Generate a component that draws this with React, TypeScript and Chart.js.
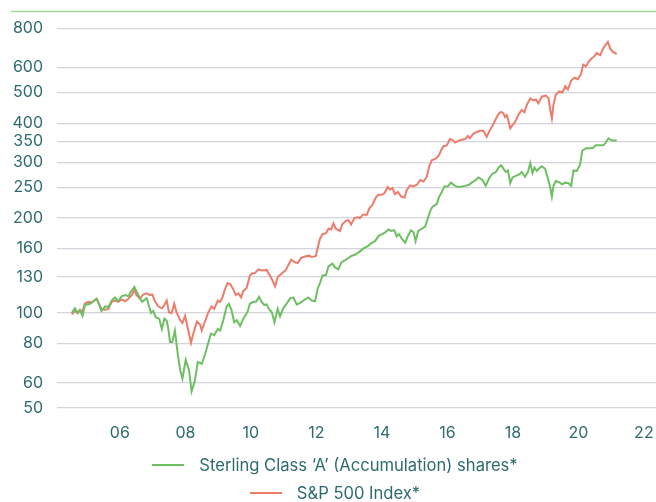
import React, { useEffect, useRef } from "react";
import { Chart, registerables } from "chart.js";

Chart.register(...registerables);

const seriesLabels = ["Sterling Class \u2018A\u2019 (Accumulation) shares*", "S&P 500 Index*"];

const greenDates = [2004.53,2004.63,2004.71,2004.78,2004.86,2004.93,2005.09,2005.29,2005.44,2005.55,2005.65,2005.75,2005.85,2005.95,2006.05,2006.16,2006.26,2006.34,2006.44,2006.51,2006.61,2006.68,2006.82,2006.89,2006.95,2007.02,2007.09,2007.20,2007.28,2007.36,2007.43,2007.48,2007.53,2007.60,2007.68,2007.77,2007.84,2007.91,2008.01,2008.11,2008.19,2008.29,2008.38,2008.50,2008.60,2008.70,2008.78,2008.88,2008.99,2009.06,2009.16,2009.26,2009.33,2009.41,2009.49,2009.57,2009.67,2009.77,2009.90,2009.97,2010.07,2010.16,2010.25,2010.33,2010.41,2010.48,2010.55,2010.64,2010.72,2010.82,2010.89,2010.99,2011.09,2011.20,2011.30,2011.40,2011.50,2011.63,2011.75,2011.86,2011.96,2012.04,2012.11,2012.19,2012.29,2012.37,2012.49,2012.57,2012.67,2012.77,2012.88,2013.08,2013.18,2013.30,2013.43,2013.57,2013.69,2013.79,2013.91,2014.01,2014.10,2014.20,2014.28,2014.38,2014.45,2014.52,2014.61,2014.71,2014.79,2014.89,2014.97,2015.03,2015.11,2015.22,2015.32,2015.40,2015.47,2015.54,2015.68,2015.75,2015.83,2015.91,2016.01,2016.11,2016.21,2016.32,2016.44,2016.54,2016.66,2016.76,2016.87,2016.95,2017.07,2017.17,2017.27,2017.37,2017.48,2017.56,2017.64,2017.71,2017.78,2017.85,2017.92,2017.99,2018.09,2018.19,2018.27,2018.37,2018.46,2018.53,2018.60,2018.66,2018.73,2018.80,2018.88,2018.98,2019.07,2019.14,2019.19,2019.24,2019.31,2019.41,2019.51,2019.60,2019.70,2019.78,2019.85,2019.95,2020.05,2020.12,2020.23,2020.33,2020.43,2020.53,2020.67,2020.76,2020.82,2020.92,2021.02,2021.17];
const greenValues = [100,103.5,100,102,98,106,107,111,101.5,105,104.5,109.5,112,109,113,114,113,117,121,117,111.5,108.5,111.5,105,100,101.5,97,96,89,96,94.5,89,81,81,88,74,66,62,71,66,56.5,61,70,69,74,80.5,86,85,89,88,95,105,107,102,93.5,95,91,96,101,107,108.5,108.5,112.5,108.5,106,106.5,103,100.5,93.5,103,97.5,103.5,107,111.5,112,106.5,107.5,110,112,109.5,109,119.5,124.5,131.5,132,140.5,143.5,139.5,137.5,145,147,152,153,156,160,163,167,169,176,178,180,184,182,183,175,178,172,167,175,183,180,169,182,185,188,199,210,217,222,234,242,252,252,259,254,251,252,253,255,260,264,269,264,253,267,276,280,289,294,287,280,283,258,269,272,275,280,270,280,299,278,289,282,287,292,287,267,250,234,253,262,260,256,259,258,253,283,282,295,327,333,333,333,340,340,340,345,358,352,352];

const redDates = [2004.53,2004.63,2004.71,2004.78,2004.85,2004.93,2005.03,2005.14,2005.29,2005.44,2005.55,2005.65,2005.75,2005.85,2005.95,2006.05,2006.16,2006.26,2006.36,2006.44,2006.51,2006.61,2006.71,2006.82,2006.92,2006.99,2007.07,2007.17,2007.28,2007.36,2007.43,2007.50,2007.58,2007.66,2007.73,2007.84,2007.91,2007.99,2008.09,2008.17,2008.24,2008.35,2008.45,2008.50,2008.60,2008.70,2008.80,2008.88,2008.99,2009.06,2009.13,2009.21,2009.29,2009.37,2009.46,2009.54,2009.62,2009.70,2009.77,2009.87,2009.97,2010.04,2010.13,2010.23,2010.33,2010.48,2010.58,2010.65,2010.74,2010.82,2010.94,2011.06,2011.23,2011.33,2011.43,2011.53,2011.65,2011.78,2011.86,2011.98,2012.04,2012.11,2012.19,2012.29,2012.37,2012.45,2012.52,2012.59,2012.72,2012.79,2012.90,2012.98,2013.06,2013.16,2013.26,2013.33,2013.42,2013.54,2013.62,2013.71,2013.81,2013.89,2014.00,2014.08,2014.18,2014.25,2014.32,2014.40,2014.49,2014.59,2014.69,2014.76,2014.86,2014.96,2015.07,2015.17,2015.27,2015.37,2015.44,2015.52,2015.65,2015.73,2015.81,2015.88,2015.98,2016.08,2016.15,2016.24,2016.34,2016.44,2016.54,2016.62,2016.69,2016.79,2016.90,2017.00,2017.10,2017.20,2017.30,2017.41,2017.51,2017.58,2017.64,2017.71,2017.76,2017.81,2017.86,2017.92,2017.99,2018.07,2018.17,2018.27,2018.35,2018.43,2018.53,2018.63,2018.70,2018.78,2018.88,2019.01,2019.09,2019.14,2019.19,2019.24,2019.31,2019.41,2019.51,2019.60,2019.68,2019.78,2019.88,2019.98,2020.08,2020.15,2020.23,2020.31,2020.41,2020.49,2020.56,2020.67,2020.73,2020.82,2020.90,2020.97,2021.04,2021.12,2021.17];
const redValues = [99,101.5,100,102.5,100.5,107,108.5,108,111,103,102.5,103,108.5,109.5,108.5,110.5,109,111,114,118.5,114,111,114.5,115.5,114,114.5,109,105,103.5,106,109.5,100.5,100,107,100.5,95,93,98,88,80.5,86,94,92,88,94,100.5,105,103,109.5,108.5,112,119,124.5,123.5,119,114,115.5,112,117.5,120,131.5,133.5,134,137.5,136.5,137,131.5,127.5,121.5,130,133.5,136.5,147.5,145,144,149.5,151,152,150.5,151.5,161,172,178,179,185,184,192.5,185,182,191,196,197,191,200,201,200,205,205,215,220,232,237,237,240,251,246,249,238,242,234,232,245,254,252,255,264,261,270,290,305,309,315,328,338,340,356,354,347,352,354,356,364,358,370,375,378,378,362,380,398,418,430,434,430,418,424,408,385,394,404,425,440,433,458,479,472,475,462,485,489,479,441,414,458,492,504,500,524,511,546,557,551,572,613,605,626,642,652,667,657,681,706,723,690,675,667,662];

const yTicks = [50, 60, 80, 100, 130, 160, 200, 250, 300, 350, 400, 500, 600, 800];
const xTicks = [2006, 2008, 2010, 2012, 2014, 2016, 2018, 2020, 2022];
const xTickLabels = ["06", "08", "10", "12", "14", "16", "18", "20", "22"];

const GREEN = "#6dbf62";
const RED = "#ee7b6b";
const TEXT = "#2d6b6e";
const FONT = "Inter";

const topRule = {
  id: "topRule",
  afterDraw(chart: any) {
    const { ctx, chartArea, width } = chart;
    ctx.save();
    ctx.strokeStyle = "#9fd69b";
    ctx.lineWidth = 1.5;
    ctx.beginPath();
    ctx.moveTo(11, chartArea.top - 0.5);
    ctx.lineTo(width, chartArea.top - 0.5);
    ctx.stroke();
    ctx.restore();
  },
};

export default function App() {
  const ref = useRef<HTMLCanvasElement | null>(null);
  useEffect(() => {
    if (!ref.current) return;
    const chart = new Chart(ref.current, {
      type: "line",
      data: {
        datasets: [
          {
            label: seriesLabels[0],
            data: greenDates.map((d, i) => ({ x: d, y: greenValues[i] })),
            borderColor: GREEN,
            backgroundColor: GREEN,
            borderWidth: 2,
            pointRadius: 0,
            tension: 0,
          },
          {
            label: seriesLabels[1],
            data: redDates.map((d, i) => ({ x: d, y: redValues[i] })),
            borderColor: RED,
            backgroundColor: RED,
            borderWidth: 2,
            pointRadius: 0,
            tension: 0,
          },
        ],
      },
      options: {
        animation: false,
        responsive: false,
        maintainAspectRatio: false,
        layout: { padding: { top: 12, left: 0, right: 0, bottom: 0 } },
        plugins: { legend: { display: false }, tooltip: { enabled: false } },
        scales: {
          x: {
            type: "linear",
            min: 2004.08,
            max: 2022.37,
            grid: { display: false, drawTicks: false },
            border: { display: false },
            afterBuildTicks: (s: any) => {
              s.ticks = xTicks.map((v) => ({ value: v }));
            },
            afterFit: (s: any) => {
              s.height = 94;
              s.paddingLeft = 0;
              s.paddingRight = 0;
            },
            ticks: {
              autoSkip: false,
              maxRotation: 0,
              padding: 16,
              color: TEXT,
              font: { family: FONT, size: 16 },
              callback: (v: any) => {
                const i = xTicks.indexOf(Number(v));
                return i >= 0 ? xTickLabels[i] : "";
              },
            },
          },
          y: {
            type: "logarithmic",
            min: 50,
            max: 900,
            grid: { color: "#d4d4dc", lineWidth: 1.2, drawTicks: false },
            border: { display: false },
            afterBuildTicks: (s: any) => {
              s.ticks = yTicks.map((v) => ({ value: v }));
            },
            afterFit: (s: any) => {
              s.width = 57;
              s.paddingTop = 0;
              s.paddingBottom = 0;
            },
            ticks: {
              autoSkip: false,
              padding: 14,
              color: TEXT,
              font: { family: FONT, size: 16 },
              callback: (v: any) => String(v),
            },
          },
        },
      },
      plugins: [topRule],
    });
    return () => chart.destroy();
  }, []);

  const rowStyle: React.CSSProperties = {
    position: "absolute",
    left: 0,
    width: 656,
    height: 24,
    display: "flex",
    alignItems: "center",
    justifyContent: "center",
    paddingLeft: 14,
    boxSizing: "border-box",
    fontFamily: FONT,
    fontSize: 16.6,
    color: TEXT,
    whiteSpace: "nowrap",
  };
  const swatch = (c: string): React.CSSProperties => ({
    display: "inline-block",
    width: 32,
    height: 2,
    background: c,
    marginRight: 15,
  });

  return (
    <div style={{ position: "fixed", left: 0, top: 0, width: 656, height: 502, background: "#fff" }}>
      <canvas ref={ref} width={656} height={502} style={{ display: "block", width: 656, height: 502 }} />
      <div style={{ ...rowStyle, top: 453 }}>
        <span style={swatch(GREEN)} />
        <span>{seriesLabels[0]}</span>
      </div>
      <div style={{ ...rowStyle, top: 481 }}>
        <span style={swatch(RED)} />
        <span>{seriesLabels[1]}</span>
      </div>
    </div>
  );
}
